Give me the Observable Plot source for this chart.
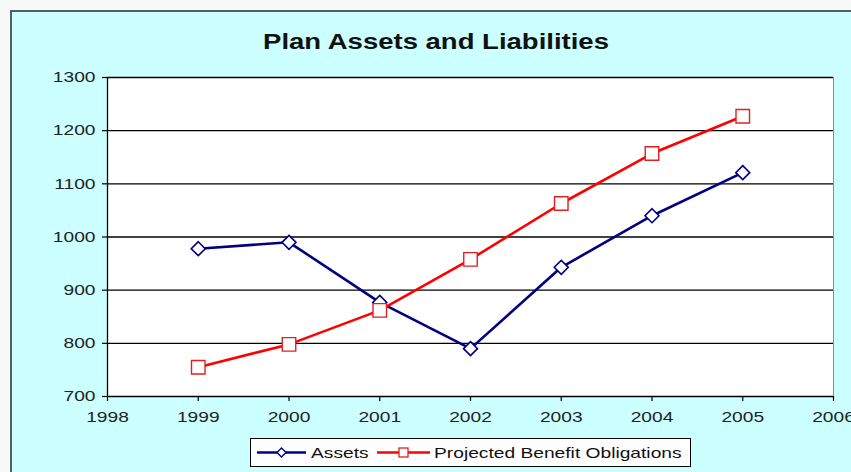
<!DOCTYPE html>
<html>
<head>
<meta charset="utf-8">
<script src="https://cdn.jsdelivr.net/npm/d3@7"></script>
<script src="https://cdn.jsdelivr.net/npm/@observablehq/plot@0.6"></script>
<style>
  html, body { margin: 0; padding: 0; }
  body { width: 851px; height: 472px; overflow: hidden; background: #f7f9f9; position: relative; font-family: "Liberation Sans", Arial, sans-serif; }
  #frame { position: absolute; left: 10px; top: 10px; width: 860px; height: 480px; background: #ccffff; border-left: 2px solid #56605f; border-top: 2px solid #56605f; }
  #title { position: absolute; left: 0; top: 31px; width: 872px; text-align: center; font-size: 22px; line-height: 22px; font-weight: bold; color: #111; transform: scaleX(1.25); transform-origin: 436px 0; white-space: nowrap; }
  #chart { position: absolute; left: 0; top: 0; }
  #legend { position: absolute; left: 250px; top: 438px; }
</style>
</head>
<body>
<div id="frame"></div>
<div id="title">Plan Assets and Liabilities</div>
<div id="chart"></div>
<div id="legend"></div>
<script>
// ---- data ----
const years = [1999, 2000, 2001, 2002, 2003, 2004, 2005];
const assets = [978, 990, 877, 790, 943, 1040, 1121];
const pbo = [755, 798, 862, 958, 1063, 1157, 1227];
const xTicks = [1998, 1999, 2000, 2001, 2002, 2003, 2004, 2005, 2006];
const yTicks = [700, 800, 900, 1000, 1100, 1200, 1300];
const seriesNames = ["Assets", "Projected Benefit Obligations"];
const seriesColors = ["#000080", "#ff0000"];

const rows = [];
years.forEach((yr, i) => {
  rows.push({year: yr, value: assets[i], series: seriesNames[0]});
  rows.push({year: yr, value: pbo[i], series: seriesNames[1]});
});
const assetRows = rows.filter(d => d.series === seriesNames[0]);
const pboRows = rows.filter(d => d.series === seriesNames[1]);
const fmt = d => String(d);

const chart = Plot.plot({
  width: 851,
  height: 472,
  marginLeft: 107,
  marginRight: 18,
  marginTop: 77,
  marginBottom: 76,
  style: {background: "transparent", fontFamily: "'Liberation Sans', Arial, sans-serif", fontSize: "15px", color: "#222"},
  x: {domain: [1998, 2006], ticks: xTicks, tickFormat: fmt, label: null},
  y: {domain: [700, 1300], ticks: yTicks, tickFormat: fmt, label: null},
  marks: [
    Plot.frame({fill: "white", stroke: "#8a8a8a"}),
    Plot.ruleY(yTicks, {stroke: "#000", strokeWidth: 1.3}),
    Plot.ruleX([xTicks[0]], {stroke: "#000", strokeWidth: 1.3}),
    Plot.axisY({ticks: yTicks, tickFormat: fmt, tickSize: 5, tickPadding: 7, stroke: "#000", strokeWidth: 1.2}),
    Plot.axisX({ticks: xTicks, tickFormat: fmt, tickSize: 5, tickPadding: 10, stroke: "#000", strokeWidth: 1.2}),
    Plot.line(assetRows, {x: "year", y: "value", stroke: seriesColors[0], strokeWidth: 2.6}),
    Plot.line(pboRows, {x: "year", y: "value", stroke: seriesColors[1], strokeWidth: 2.6}),
    Plot.dot(assetRows, {x: "year", y: "value", symbol: "diamond2", r: 6.3, fill: "white", stroke: seriesColors[0], strokeWidth: 1.6}),
    Plot.dot(pboRows, {x: "year", y: "value", symbol: "square2", r: 8.6, fill: "white", stroke: "#e02020", strokeWidth: 1.4})
  ]
});
document.getElementById("chart").appendChild(chart);

// widen tick label glyphs to match the horizontally stretched reference
const STRETCH = 1.28;
chart.querySelectorAll("text").forEach(t => {
  const w = t.getComputedTextLength();
  if (w > 0) {
    t.setAttribute("textLength", (w * STRETCH).toFixed(1));
    t.setAttribute("lengthAdjust", "spacingAndGlyphs");
  }
});

// legend
const ns = "http://www.w3.org/2000/svg";
const lg = document.createElementNS(ns, "svg");
lg.setAttribute("width", 441);
lg.setAttribute("height", 29);
lg.style.fontFamily = "'Liberation Sans', Arial, sans-serif";
lg.style.fontSize = "15px";
function el(name, attrs, parent) {
  const e = document.createElementNS(ns, name);
  for (const k in attrs) e.setAttribute(k, attrs[k]);
  (parent || lg).appendChild(e);
  return e;
}
el("rect", {x: 0.5, y: 0.5, width: 440, height: 28, fill: "white", stroke: "#000", "stroke-width": 1});
const items = [
  {x0: 7, x1: 56, tx: 61, shape: "diamond"},
  {x0: 127, x1: 180, tx: 184, shape: "square"}
];
items.forEach((it, i) => {
  el("line", {x1: it.x0, x2: it.x1, y1: 14.5, y2: 14.5, stroke: seriesColors[i], "stroke-width": 2.6});
  const cx = (it.x0 + it.x1) / 2;
  if (it.shape === "diamond") {
    el("path", {d: `M${cx},${14.5 - 4.5}L${cx + 4.5},14.5L${cx},${14.5 + 4.5}L${cx - 4.5},14.5Z`, fill: "white", stroke: seriesColors[i], "stroke-width": 1.4});
  } else {
    el("rect", {x: cx - 4.5, y: 10, width: 9, height: 9, fill: "white", stroke: "#e02020", "stroke-width": 1.3});
  }
  const t = el("text", {x: it.tx, y: 20, fill: "#111"});
  t.textContent = seriesNames[i];
});
document.getElementById("legend").appendChild(lg);
lg.querySelectorAll("text").forEach(t => {
  const w = t.getComputedTextLength();
  t.setAttribute("textLength", (w * STRETCH).toFixed(1));
  t.setAttribute("lengthAdjust", "spacingAndGlyphs");
});
</script>
</body>
</html>
